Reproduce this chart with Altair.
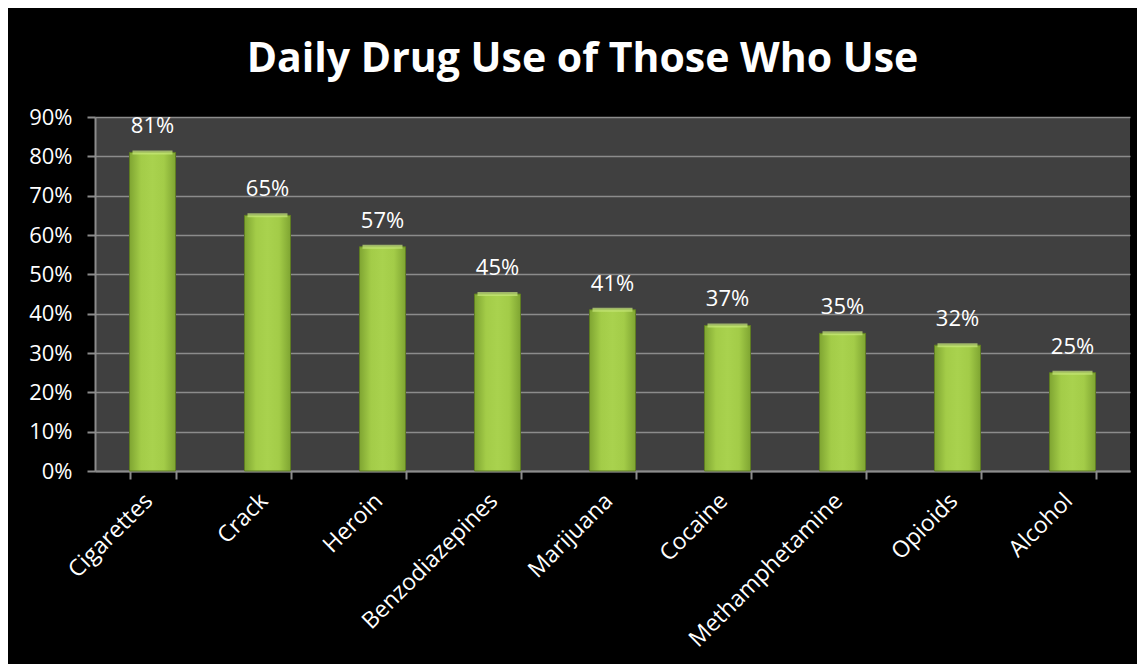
import altair as alt
import pandas as pd

drugs = ["Cigarettes", "Crack", "Heroin", "Benzodiazepines", "Marijuana",
         "Cocaine", "Methamphetamine", "Opioids", "Alcohol"]
values = [0.81, 0.65, 0.57, 0.45, 0.41, 0.37, 0.35, 0.32, 0.25]
y_ticks = [0, 0.1, 0.2, 0.3, 0.4, 0.5, 0.6, 0.7, 0.8, 0.9]

df = pd.DataFrame({"drug": drugs, "value": values})

FONT = "Open Sans"

x = alt.X("drug:N", sort=drugs, title=None,
          scale=alt.Scale(paddingInner=0.6, paddingOuter=0.3),
          axis=alt.Axis(labelAngle=-45, labelAlign="right", labelBaseline="middle",
                        labelColor="white", labelFont=FONT, labelFontSize=23,
                        labelPadding=18, labelOffset=-4, labelOverlap=False,
                        labelLimit=400,
                        tickBand="extent", tickColor="#8c8c8c",
                        tickSize=8, tickWidth=2, domainColor="#8c8c8c", domainWidth=2,
                        grid=False))
y = alt.Y("value:Q", title=None,
          scale=alt.Scale(domain=[0, 0.9], nice=False),
          axis=alt.Axis(values=y_ticks, format=".0%", labelColor="white",
                        labelFont=FONT, labelFontSize=22, labelPadding=15,
                        labelOverlap=False,
                        tickColor="#8c8c8c", tickSize=8, tickWidth=2,
                        domainColor="#8c8c8c", domainWidth=2,
                        gridColor="#8c8c8c", gridWidth=1.5))

grad = alt.Gradient(
    gradient="linear", x1=0, x2=1, y1=0, y2=0,
    stops=[alt.GradientStop(color="#7fa532", offset=0),
           alt.GradientStop(color="#a3cc48", offset=0.25),
           alt.GradientStop(color="#a9d24e", offset=0.5),
           alt.GradientStop(color="#a3cc48", offset=0.75),
           alt.GradientStop(color="#7fa532", offset=1)])

base = alt.Chart(df).encode(x=x, y=y)

bars = base.mark_bar(fill=grad, stroke="#5f7d22", strokeWidth=1)

tops = base.mark_tick(color="#c8e87a", thickness=4, size=40)

labels = base.mark_text(dy=-26, color="white", font=FONT, fontSize=22).encode(
    text=alt.Text("value:Q", format=".0%"))

chart = alt.layer(bars, tops, labels).properties(
    width=1035, height=354,
    title=alt.TitleParams("Daily Drug Use of Those Who Use", color="white",
                          font=FONT, fontSize=41, fontWeight="bold",
                          anchor="middle", offset=25, dx=-30),
    padding={"left": 87, "top": 109, "right": 7, "bottom": 193},
    autosize=alt.AutoSizeParams(type="none"),
    background="black",
).configure_view(fill="#404040", stroke=None)

chart.save("out.html", embed_options={"renderer": "svg", "actions": False})
